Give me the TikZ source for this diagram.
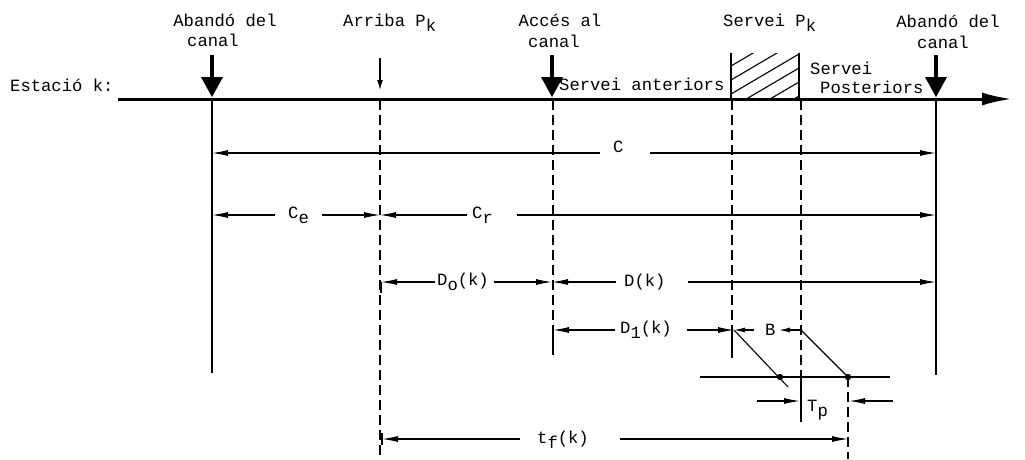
\documentclass[tikz,border=0pt]{standalone}
\usepackage{fontspec}
\setmainfont{Liberation Mono}
\usetikzlibrary{arrows.meta}
\newcommand\lowr[1]{\raisebox{-0.6ex}{#1}}
\begin{document}
\begin{tikzpicture}[x=1pt,y=-1pt,
  dim/.style={line width=1.1pt},
  tip/.style={-{Latex[length=16pt,width=6pt]}},
  lbl/.style={inner sep=0pt, anchor=base, font=\fontsize{17.2}{19}\selectfont},
  lbw/.style={lbl, anchor=base west},
  dsh/.style={line width=1.2pt, dash pattern=on 10pt off 5pt},
  sol/.style={line width=1.3pt},
  bigarr/.pic={\draw[line width=3.8pt] (0,-44) -- (0,-18);
               \fill (-11,-22) -- (11,-22) -- (0,-2) -- cycle;}]
\useasboundingbox (0,0) rectangle (1025,459);
% timeline
\coordinate (tl0) at (118,99);
\coordinate (tl1) at (1012,99);
\draw[line width=3pt, -{Latex[length=30pt,width=13pt]}] (tl0) -- (tl1);
\node[lbw] (est) at (10,91) {Estació k:};
% top labels
\node[lbl] (ab1) at (225,26) {Abandó del};
\node[lbl] (ab1b) at (213,46) {canal};
\node[lbw] (arr) at (343,26) {Arriba P\lowr{k}};
\node[lbl] (acc) at (560,26) {Accés al};
\node[lbl] (accb) at (554,47) {canal};
\node[lbw] (ser) at (723,26) {Servei P\lowr{k}};
\node[lbl] (ab2) at (948,27) {Abandó del};
\node[lbl] (ab2b) at (943,48) {canal};
\node[lbw] (sant) at (559,90) {Servei anteriors};
\node[lbw] (spos) at (810,74) {Servei};
\node[lbw] (spos2) at (820,93) {Posteriors};
% big arrows
\pic at (212,99) {bigarr};
\pic at (552,99) {bigarr};
\pic at (936,99) {bigarr};
% small arrow arriba
\draw[sol, -{Latex[length=10pt,width=6pt]}] (380,58) -- (380,90);
% hatched box
\draw[sol] (731,53) -- (731,99);
\draw[sol] (799,53) -- (799,99);
\begin{scope}
\clip (731,53) rectangle (799,99);
\foreach \y in {66,80,94,108,122,136}
  \draw[line width=1.1pt] (731,\y) -- (799,\y-40);
\end{scope}
% vertical lines
\draw[sol] (212,99) -- (212,373);
\draw[sol] (936,99) -- (936,375);
\draw[dsh] (380,100) -- (380,459);
\draw[dsh] (553,100) -- (553,330);
\draw[sol] (553,330) -- (553,355);
\draw[dsh] (732,100) -- (732,330);
\draw[sol] (732,330) -- (732,358);
\draw[dsh] (801,100) -- (801,377);
\draw[sol] (801,377) -- (801,422);
\draw[dsh] (848,377) -- (848,459);
% row C
\node[lbw] (lc) at (613,152) {C};
\draw[dim,tip] (600,153) -- (212,153);
\draw[dim,tip] (650,153) -- (936,153);
% row Ce Cr
\node[lbw] (lce) at (288,218) {C\lowr{e}};
\draw[dim,tip] (275,215) -- (212,215);
\draw[dim,tip] (322,215) -- (380,215);
\node[lbw] (lcr) at (472,218) {C\lowr{r}};
\draw[dim,tip] (467,215) -- (380,215);
\draw[dim,tip] (517,215) -- (936,215);
% row Do D
\node[lbw] (ldo) at (437,285) {D\lowr{o}(k)};
\draw[dim,tip] (435,282) -- (381,282);
\draw[sol] (381,282) -- (381,293);
\draw[dim,tip] (494,282) -- (552,282);
\node[lbw] (ldk) at (624,286) {D(k)};
\draw[dim,tip] (616,282) -- (552,282);
\draw[dim,tip] (688,282) -- (936,282);
% row D1, B
\node[lbw] (ld1) at (620,333) {D\lowr{1}(k)};
\draw[dim,tip] (615,330) -- (553,330);
\draw[dim,tip] (687,330) -- (734,330);
\draw[dim,-{Latex[length=11pt,width=5pt]}] (754,330) -- (734,330);
\node[lbw] (lb) at (765,335) {B};
\draw[dim,-{Latex[length=11pt,width=5pt]}] (801,330) -- (779,330);
% diagonals and lower line
\draw[dim] (734,330) -- (788,387);
\draw[dim] (801,330) -- (848,377);
\draw[dim] (700,377) -- (890,377);
\fill (780,377) circle (3.2);
\fill (848,377) circle (3.2);
% Tp
\draw[dim,tip] (757,401) -- (800,401);
\draw[dim,tip] (893,401) -- (849,401);
\node[lbw] (ltp) at (807,411) {T\lowr{p}};
% tf
\node[lbw] (ltf) at (537,443) {t\lowr{f}(k)};
\draw[dim,tip] (520,439) -- (382,439);
\draw[sol] (382,433) -- (382,445);
\draw[dim,tip] (620,439) -- (848,439);
\end{tikzpicture}
\end{document}
